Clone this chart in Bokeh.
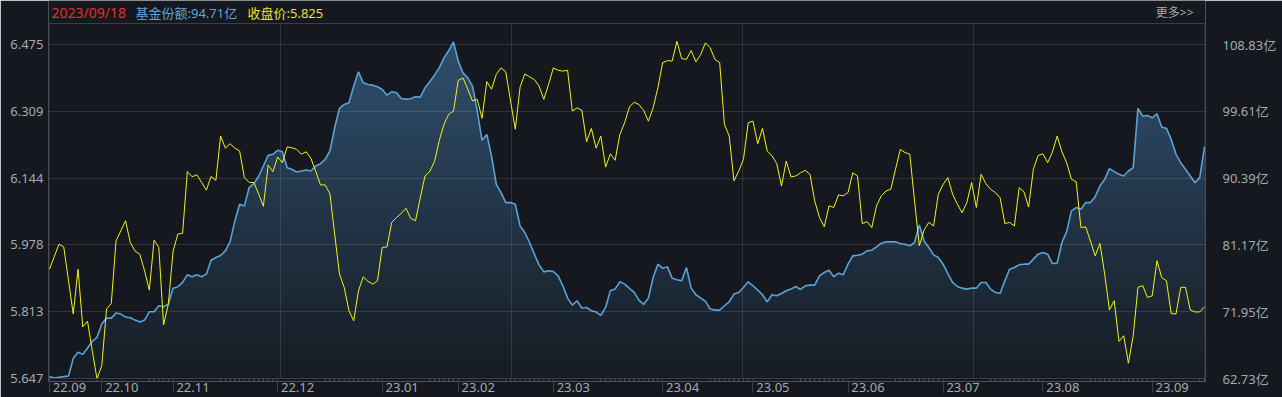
import numpy as np
from bokeh.plotting import figure
from bokeh.models import Range1d, FixedTicker, LinearAxis, ColumnDataSource, Span
from bokeh.core.properties import value
from bokeh.embed import file_html
from bokeh.resources import INLINE

# ---------------- data ----------------
price = [
    5.918, 5.949, 5.980, 5.973, 5.889, 5.807, 5.918, 5.775, 5.789, 5.716,
    5.646, 5.679, 5.819, 5.833, 5.988, 6.013, 6.038, 5.984, 5.963, 5.955,
    5.914, 5.866, 5.990, 5.972, 5.780, 5.831, 5.963, 6.005, 6.007, 6.160,
    6.147, 6.152, 6.133, 6.114, 6.148, 6.138, 6.248, 6.218, 6.229, 6.218,
    6.211, 6.145, 6.133, 6.133, 6.104, 6.074, 6.176, 6.160, 6.196, 6.182,
    6.221, 6.219, 6.215, 6.203, 6.209, 6.193, 6.161, 6.127, 6.127, 6.105,
    6.005, 5.906, 5.873, 5.815, 5.790, 5.864, 5.899, 5.888, 5.881, 5.889,
    5.972, 5.973, 6.034, 6.046, 6.056, 6.069, 6.044, 6.038, 6.095, 6.149,
    6.160, 6.185, 6.237, 6.277, 6.302, 6.310, 6.386, 6.392, 6.364, 6.335,
    6.339, 6.292, 6.383, 6.364, 6.401, 6.417, 6.407, 6.335, 6.265, 6.369,
    6.402, 6.395, 6.388, 6.372, 6.339, 6.376, 6.417, 6.411, 6.409, 6.411,
    6.310, 6.318, 6.312, 6.234, 6.267, 6.218, 6.248, 6.171, 6.204, 6.188,
    6.252, 6.281, 6.320, 6.332, 6.326, 6.312, 6.285, 6.318, 6.368, 6.430,
    6.435, 6.434, 6.483, 6.440, 6.438, 6.460, 6.432, 6.450, 6.479, 6.467,
    6.438, 6.430, 6.277, 6.248, 6.137, 6.161, 6.190, 6.281, 6.285, 6.229,
    6.267, 6.211, 6.199, 6.180, 6.124, 6.186, 6.147, 6.149, 6.157, 6.163,
    6.153, 6.087, 6.046, 6.023, 6.075, 6.071, 6.102, 6.100, 6.108, 6.157,
    6.149, 6.031, 6.036, 6.021, 6.075, 6.100, 6.112, 6.116, 6.166, 6.215,
    6.207, 6.203, 6.087, 5.976, 6.015, 6.034, 6.025, 6.104, 6.128, 6.145,
    6.104, 6.079, 6.058, 6.083, 6.133, 6.071, 6.153, 6.130, 6.116, 6.108,
    6.095, 6.031, 6.034, 6.025, 6.120, 6.110, 6.072, 6.166, 6.200, 6.204,
    6.182, 6.208, 6.248, 6.209, 6.182, 6.141, 6.135, 6.021, 6.023, 5.988,
    5.951, 5.982, 5.906, 5.817, 5.840, 5.739, 5.753, 5.685, 5.753, 5.873,
    5.877, 5.848, 5.852, 5.939, 5.897, 5.889, 5.808, 5.807, 5.873, 5.873,
    5.817, 5.812, 5.812, 5.825,
]

share = [
    62.99, 62.80, 62.90, 62.99, 63.08, 65.51, 66.34, 66.06, 66.94, 67.86,
    68.41, 70.25, 71.07, 71.07, 71.76, 71.62, 71.21, 71.12, 70.79, 70.52,
    70.79, 71.94, 71.94, 72.77, 72.63, 73.00, 75.20, 75.39, 75.99, 77.04,
    76.77, 77.04, 76.77, 77.13, 79.06, 79.43, 79.71, 80.35, 81.63, 84.48,
    86.78, 86.55, 89.08, 89.63, 90.64, 92.06, 93.53, 93.67, 94.22, 94.04,
    91.83, 91.60, 91.23, 91.37, 91.51, 91.37, 92.06, 92.38, 92.98, 94.13,
    97.34, 100.01, 100.56, 100.79, 103.08, 105.06, 103.54, 103.31, 103.22, 102.99,
    102.62, 101.84, 102.30, 102.17, 101.38, 101.29, 101.34, 101.61, 101.57, 102.85,
    103.68, 104.60, 105.61, 106.99, 108.00, 109.19, 106.53, 104.92, 104.23, 103.08,
    99.64, 95.60, 96.42, 93.44, 89.53, 88.39, 87.01, 87.01, 86.78, 83.79,
    82.88, 81.50, 79.89, 78.42, 77.45, 77.59, 77.50, 76.90, 75.53, 73.83,
    72.86, 73.46, 72.45, 72.54, 72.08, 71.90, 71.44, 72.54, 74.84, 75.07,
    76.08, 75.76, 75.16, 74.61, 73.55, 72.95, 73.83, 76.67, 78.51, 77.96,
    78.14, 76.58, 76.35, 76.21, 78.05, 75.20, 74.29, 73.83, 73.37, 72.31,
    72.17, 72.17, 72.77, 73.32, 74.38, 74.61, 75.30, 76.08, 75.53, 74.93,
    74.29, 73.30, 74.29, 74.15, 74.47, 74.84, 75.07, 75.43, 75.02, 75.53,
    75.62, 75.62, 76.90, 77.36, 77.68, 76.77, 77.27, 77.04, 78.51, 79.66,
    79.75, 79.89, 80.35, 80.44, 80.90, 81.41, 81.59, 81.59, 81.59, 81.36,
    81.27, 81.04, 81.50, 83.93, 81.73, 80.81, 79.80, 79.43, 78.51, 77.22,
    75.99, 75.43, 75.20, 75.07, 75.20, 75.20, 75.99, 75.99, 75.07, 74.61,
    74.50, 76.21, 77.82, 78.05, 78.42, 78.51, 78.51, 79.20, 79.89, 80.12,
    79.89, 78.60, 78.65, 81.50, 83.01, 85.86, 86.32, 86.09, 87.01, 87.01,
    87.83, 89.30, 90.22, 91.69, 91.28, 90.91, 90.68, 91.37, 91.83, 100.01,
    98.95, 99.04, 98.72, 99.27, 97.43, 97.25, 95.73, 93.67, 92.52, 91.60,
    90.68, 89.76, 90.45, 94.71,
]

days = list(range(len(price)))

month_labels = ["22.09", "22.10", "22.11", "22.12", "23.01", "23.02", "23.03",
                "23.04", "23.05", "23.06", "23.07", "23.08", "23.09"]
month_start = [0, 11, 26, 48, 70, 86, 106, 129, 148, 168, 188, 209, 232]

price_ticks = [5.647, 5.813, 5.978, 6.144, 6.309, 6.475]
price_tick_labels = ["5.647", "5.813", "5.978", "6.144", "6.309", "6.475"]
share_ticks = [62.73, 71.95, 81.17, 90.39, 99.61, 108.83]
share_tick_labels = ["62.73亿", "71.95亿", "81.17亿", "90.39亿", "99.61亿", "108.83亿"]

header_texts = ["2023/09/18", "基金份额:94.71亿", "收盘价:5.825"]
header_colors = ["#e5302c", "#5fa6dc", "#e4e42a"]
more_text = "更多>>"

# ---------------- layout / style ----------------
BG = "#15181e"
OUTLINE = "#3a3e46"
DAYTICK = "#50545c"
TXT = "#a6a9ae"
BLUE = "#5aa2d6"
YELLOW = "#f2f21a"
FONT = "Noto Sans, Noto Sans CJK SC"
W, H = 1282, 397
LEFT, RIGHT = 49, 1204        # plotting box edges (px)
TOP, BOTTOM = 23, 378         # plotting box edges (px)
FRAME_BOTTOM = 381            # frame reaches a little below the box (for day ticks)
TICK_TOP_PX = 44              # where the highest tick sits (px)

n = len(days) - 1
px_per_day = (RIGHT - LEFT) / n
lo_p, hi_p = price_ticks[0], price_ticks[-1]
p_per_px = (hi_p - lo_p) / (BOTTOM - TICK_TOP_PX)
lo_s, hi_s = share_ticks[0], share_ticks[-1]
s_per_px = (hi_s - lo_s) / (BOTTOM - TICK_TOP_PX)


def x_at(px):
    return (px - LEFT) / px_per_day


def yp_at(py):
    return lo_p + (BOTTOM - py) * p_per_px


p = figure(width=W, height=H, output_backend="svg", toolbar_location=None,
           x_range=Range1d(x_at(LEFT - 1), x_at(RIGHT + 1)),
           y_range=Range1d(yp_at(FRAME_BOTTOM), yp_at(0)),
           min_border_left=LEFT - 1, min_border_right=W - RIGHT - 1,
           min_border_top=0, min_border_bottom=H - FRAME_BOTTOM,
           background_fill_color=BG, border_fill_color=BG,
           outline_line_color=None)
p.extra_y_ranges = {"amt": Range1d(lo_s - (FRAME_BOTTOM - BOTTOM) * s_per_px,
                                   lo_s + BOTTOM * s_per_px)}

# gradient filled area for fund share
share_arr = np.array(share)
base = lo_s
top_v = share_arr.max()
nb = 48
c_top = np.array([47, 79, 110])
c_bot = np.array([22, 27, 34])
levels = np.linspace(top_v, base, nb + 1)[:-1]
for lv in levels:
    t = (lv - base) / (top_v - base)
    c = (c_bot + (c_top - c_bot) * t).astype(int)
    p.varea(x=days, y1=base, y2=np.minimum(share_arr, lv),
            fill_color="#%02x%02x%02x" % tuple(c), y_range_name="amt")

# vertical grid lines (5 equal columns) and box edges
y_box_top = yp_at(TOP)
y_frame_bot = yp_at(FRAME_BOTTOM)
vx = [n * k / 5 for k in range(1, 5)]
p.segment(x0=vx, y0=[lo_p] * 4, x1=vx, y1=[y_box_top] * 4,
          line_color="#ffffff", line_alpha=0.11, line_width=1)
ex = [x_at(LEFT - 0.5), x_at(RIGHT + 0.5)]
p.segment(x0=ex, y0=[lo_p] * 2, x1=ex, y1=[y_box_top] * 2,
          line_color=OUTLINE, line_width=1)
p.add_layout(Span(location=y_box_top, dimension="width", line_color=OUTLINE, line_width=1))
p.add_layout(Span(location=lo_p, dimension="width", line_color=OUTLINE, line_width=1))

# month separators (upper part, continued by the axis minor ticks) and small day ticks
p.segment(x0=month_start, y0=[lo_p] * len(month_start), x1=month_start,
          y1=[y_frame_bot] * len(month_start), line_color=OUTLINE, line_width=1)
bounds = month_start + [len(days)]
day_ticks = [d for i in range(len(month_start)) for d in range(bounds[i], bounds[i + 1])
             if d - bounds[i] >= 10]
p.segment(x0=day_ticks, y0=[lo_p] * len(day_ticks), x1=day_ticks,
          y1=[yp_at(BOTTOM + 2.5)] * len(day_ticks), line_color=DAYTICK, line_width=1)

p.line(days, share, line_color=BLUE, line_width=1.6, y_range_name="amt")
p.line(days, price, line_color=YELLOW, line_width=1)

# horizontal grid
p.xgrid.visible = False
p.ygrid.ticker = FixedTicker(ticks=price_ticks[1:])
p.ygrid.grid_line_color = "#ffffff"
p.ygrid.grid_line_alpha = 0.11
p.ygrid.level = "overlay"

# header (inside the frame, above the box)
yh = yp_at(12)
hsrc = ColumnDataSource(dict(x=[x_at(51), x_at(135), x_at(247)], y=[yh] * 3,
                             t=header_texts, c=header_colors, s=["14px", "13px", "13px"]))
p.text(x="x", y="y", text="t", text_color="c", text_font_size="s", source=hsrc,
       text_font=value(FONT), text_align="left", text_baseline="middle")
p.text(x=[x_at(1193)], y=[yh], text=[more_text], text_color=TXT,
       text_font=value(FONT), text_font_size="12px",
       text_align="right", text_baseline="middle")

# left axis
ya = p.yaxis[0]
ya.ticker = FixedTicker(ticks=price_ticks)
ya.major_label_overrides = {v: s for v, s in zip(price_ticks, price_tick_labels)}
ya.major_tick_in = 0
ya.major_tick_out = 0
ya.minor_tick_line_color = None
ya.axis_line_color = None
ya.major_label_standoff = 5
ya.major_label_text_font = FONT
ya.major_label_text_font_size = "13px"
ya.major_label_text_color = TXT

# right axis (fund share)
ra = LinearAxis(y_range_name="amt", ticker=FixedTicker(ticks=share_ticks))
ra.major_label_overrides = {v: s for v, s in zip(share_ticks, share_tick_labels)}
ra.major_tick_in = 0
ra.major_tick_out = 0
ra.minor_tick_line_color = None
ra.axis_line_color = None
ra.major_label_standoff = 17
ra.major_label_text_font = FONT
ra.major_label_text_font_size = "13px"
ra.major_label_text_color = TXT
p.add_layout(ra, "right")

# bottom axis: labels just right of month separators (separators = minor ticks)
label_pos = [m + 4.2 for m in month_start]
xa = p.xaxis[0]
xa.ticker = FixedTicker(ticks=label_pos, minor_ticks=month_start)
xa.major_label_overrides = {v: s for v, s in zip(label_pos, month_labels)}
xa.major_tick_in = 0
xa.major_tick_out = 0
xa.major_tick_line_color = None
xa.minor_tick_in = 0
xa.minor_tick_out = 11
xa.minor_tick_line_color = OUTLINE
xa.axis_line_color = None
xa.major_label_standoff = -10
xa.major_label_text_line_height = 1.0
xa.major_label_text_font = "Noto Sans"
xa.major_label_text_font_size = "13px"
xa.major_label_text_color = TXT

open("out.html", "w").write(file_html(p, INLINE))
